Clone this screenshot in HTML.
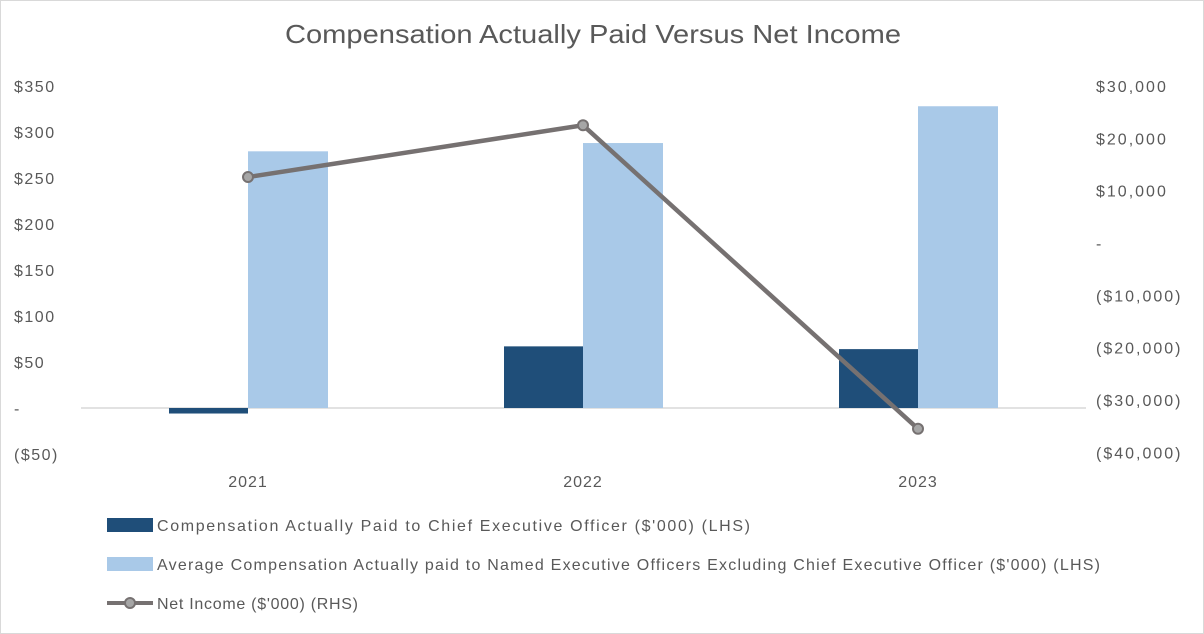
<!DOCTYPE html>
<html><head><meta charset="utf-8"><style>
body{margin:0;background:#fff;}
svg{display:block;font-family:"Liberation Sans",sans-serif;}
</style></head><body>
<svg id="chart" width="1204" height="634">
<rect x="0.5" y="0.5" width="1203" height="633" fill="#fff" stroke="#d9d9d9"/>
<text x="285" y="43" textLength="616" lengthAdjust="spacingAndGlyphs" font-size="26" fill="#595959">Compensation Actually Paid Versus Net Income</text>
<g id="plot"></g>
<g id="legend">
<rect x="107" y="518" width="46" height="14" fill="#1f4e79"/>
<text x="157" y="531" textLength="593" lengthAdjust="spacing" font-size="16" fill="#595959">Compensation Actually Paid to Chief Executive Officer ($'000) (LHS)</text>
<rect x="107" y="557" width="46" height="14" fill="#a9c9e8"/>
<text x="157" y="570" textLength="943" lengthAdjust="spacing" font-size="16" fill="#595959">Average Compensation Actually paid to Named Executive Officers Excluding Chief Executive Officer ($'000) (LHS)</text>
<line x1="107" y1="603" x2="153" y2="603" stroke="#767171" stroke-width="4"/>
<circle cx="130" cy="603" r="5" fill="#a6a6a6" stroke="#767171" stroke-width="2"/>
<text x="157" y="609" textLength="201" lengthAdjust="spacing" font-size="16" fill="#595959">Net Income ($'000) (RHS)</text>
</g>
</svg>
<script>
const categories=["2021","2022","2023"];
const ceoValues=[-6,67,64];
const neoValues=[279,288,328];
const netIncome=[12600,22500,-35500];
const leftTicks=[350,300,250,200,150,100,50,0,-50];
const leftLabels=["$350","$300","$250","$200","$150","$100","$50","-","($50)"];
const rightTicks=[30000,20000,10000,0,-10000,-20000,-30000,-40000];
const rightLabels=["$30,000","$20,000","$10,000","-","($10,000)","($20,000)","($30,000)","($40,000)"];
const NS="http://www.w3.org/2000/svg";
const g=document.getElementById('plot');
function yL(v){return 408-v*(322/350);}
function yR(v){return 243-v*(157/30000);}
function xC(i){return 248+i*335;}
function mk(tag,attrs){const e=document.createElementNS(NS,tag);for(const k in attrs)e.setAttribute(k,attrs[k]);g.appendChild(e);return e;}
leftTicks.forEach((t,i)=>{const e=mk('text',{x:14,y:yL(t)+6,'font-size':16,fill:'#595959','letter-spacing':1.5});e.textContent=leftLabels[i];

});
rightTicks.forEach((t,i)=>{const e=mk('text',{x:1096,y:yR(t)+6,'font-size':16,fill:'#595959','letter-spacing':2});e.textContent=rightLabels[i];

});
const ax=mk('line',{x1:81,x2:1086,y1:yL(0),y2:yL(0),stroke:'#d9d9d9','stroke-width':1.5});


categories.forEach((c,i)=>{
 const e=mk('text',{x:xC(i),y:487,'text-anchor':'middle','font-size':16,fill:'#595959','letter-spacing':1});e.textContent=c;
 
 
 const v=ceoValues[i];
 const b=mk('rect',{x:xC(i)-79,y:Math.min(yL(v),yL(0)),width:79,height:Math.abs(yL(v)-yL(0)),fill:'#1f4e79'});
 
 
 const w=neoValues[i];
 const b2=mk('rect',{x:xC(i),y:Math.min(yL(w),yL(0)),width:80,height:Math.abs(yL(w)-yL(0)),fill:'#a9c9e8'});
 
 
});
const pts=netIncome.map((v,i)=>xC(i)+','+yR(v)).join(' ');
const pl=mk('polyline',{points:pts,fill:'none',stroke:'#767171','stroke-width':4.5});


netIncome.forEach((v,i)=>{const c=mk('circle',{cx:xC(i),cy:yR(v),r:5,fill:'#a6a6a6',stroke:'#767171','stroke-width':2});

});
</script>
</body></html>
